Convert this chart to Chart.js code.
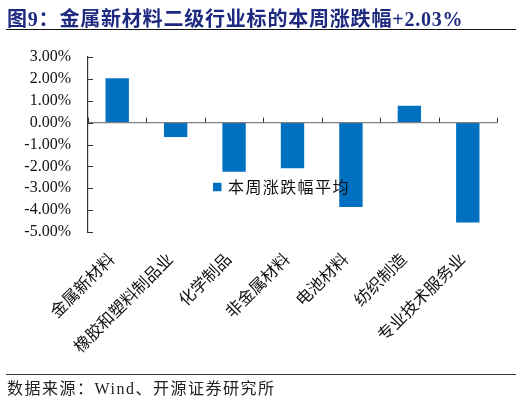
<!DOCTYPE html>
<html>
<head>
<meta charset="utf-8">
<script src="https://cdn.jsdelivr.net/npm/chart.js@4.4.1/dist/chart.umd.min.js"></script>
<style>
  html, body { margin: 0; padding: 0; background: #fff; }
  #wrap { position: relative; width: 522px; height: 404px; overflow: hidden; }
  #c { position: absolute; left: 0; top: 0; }
  #title { position: absolute; left: 7px; top: 3px; font: bold 20px "Liberation Serif", "Noto Sans CJK SC", serif; color: #1d2a80; white-space: nowrap; letter-spacing: 0.8px; }
  #line1 { position: absolute; left: 6px; top: 29px; width: 510px; height: 0; border-top: 1.3px solid #111; }
  #line2 { position: absolute; left: 6px; top: 374px; width: 510px; height: 0; border-top: 1.2px solid #333; }
  #foot { position: absolute; left: 7px; top: 375px; font: 16px "Liberation Serif", "Noto Sans CJK SC", serif; color: #222; white-space: nowrap; letter-spacing: 1.5px; }
</style>
</head>
<body>
<div id="wrap">
  <canvas id="c" width="522" height="404"></canvas>
  <div id="title">图9：金属新材料二级行业标的本周涨跌幅+2.03%</div>
  <div id="line1"></div>
  <div id="line2"></div>
  <div id="foot">数据来源：Wind、开源证券研究所</div>
</div>
<script>
const categories = ['金属新材料', '橡胶和塑料制品业', '化学制品', '非金属材料', '电池材料', '纺织制造', '专业技术服务业'];
const seriesName = '本周涨跌幅平均';
const values = [2.03, -0.66, -2.25, -2.09, -3.86, 0.77, -4.56];
const yMin = -5, yMax = 3, yStep = 1;

const barColor = '#0070C0';

const decorPlugin = {
  id: 'decor',
  afterDatasetsDraw(chart) {
    const ctx = chart.ctx;
    const xs = chart.scales.x, ys = chart.scales.y;
    const area = chart.chartArea;
    const y0 = ys.getPixelForValue(0);
    ctx.save();
    ctx.strokeStyle = '#7f7f7f';
    ctx.lineWidth = 1.3;
    ctx.beginPath();
    ctx.moveTo(area.left, y0);
    ctx.lineTo(area.right, y0);
    ctx.stroke();
    ctx.strokeStyle = '#333';
    ctx.lineWidth = 1;
    for (let i = 0; i <= categories.length; i++) {
      const x = Math.round(xs.getPixelForValue(i - 0.5)) + 0.5;
      ctx.beginPath();
      ctx.moveTo(x, y0);
      ctx.lineTo(x, y0 - 5);
      ctx.stroke();
    }
    for (let v = yMin; v <= yMax; v += yStep) {
      const y = Math.round(ys.getPixelForValue(v)) + 0.5;
      ctx.beginPath();
      ctx.moveTo(area.left, y);
      ctx.lineTo(area.left + 5, y);
      ctx.stroke();
    }
    const ds = chart.data.datasets[0];
    const lx = area.left + 125, ly = ys.getPixelForValue(-3) - 1;
    ctx.fillStyle = ds.backgroundColor;
    ctx.fillRect(lx, ly - 4.5, 8.5, 8.5);
    ctx.fillStyle = '#111';
    ctx.font = '16px "Noto Sans CJK SC", sans-serif';
    ctx.letterSpacing = '1.4px';
    ctx.textBaseline = 'middle';
    ctx.textAlign = 'left';
    ctx.fillText(ds.label, lx + 15, ly);
    ctx.restore();
  }
};

new Chart(document.getElementById('c'), {
  type: 'bar',
  data: {
    labels: categories,
    datasets: [{
      label: seriesName,
      data: values,
      backgroundColor: barColor,
      borderWidth: 0,
      barPercentage: 0.4,
      categoryPercentage: 1.0
    }]
  },
  options: {
    responsive: false,
    animation: false,
    devicePixelRatio: 1,
    layout: { padding: { left: 0, right: 25, top: 57, bottom: 0 } },
    plugins: {
      legend: { display: false },
      title: { display: false },
      tooltip: { enabled: false }
    },
    scales: {
      x: {
        type: 'category',
        offset: true,
        grid: { display: false, drawTicks: false },
        border: { display: false },
        ticks: {
          minRotation: 45,
          maxRotation: 45,
          autoSkip: false,
          padding: 17,
          labelOffset: -6,
          color: '#111',
          font: { family: '"Noto Sans CJK SC", sans-serif', size: 16.5 }
        },
        afterFit(s) { s.height = 172; }
      },
      y: {
        min: yMin,
        max: yMax,
        grid: { display: false, drawTicks: false },
        border: { display: true, color: '#333', width: 1.2 },
        ticks: {
          stepSize: yStep,
          autoSkip: false,
          padding: 17,
          color: '#111',
          font: { family: '"Liberation Serif", serif', size: 16 },
          callback: v => v.toFixed(2) + '%'
        },
        afterFit(s) { s.width = 88; }
      }
    }
  },
  plugins: [decorPlugin]
});
</script>
</body>
</html>
